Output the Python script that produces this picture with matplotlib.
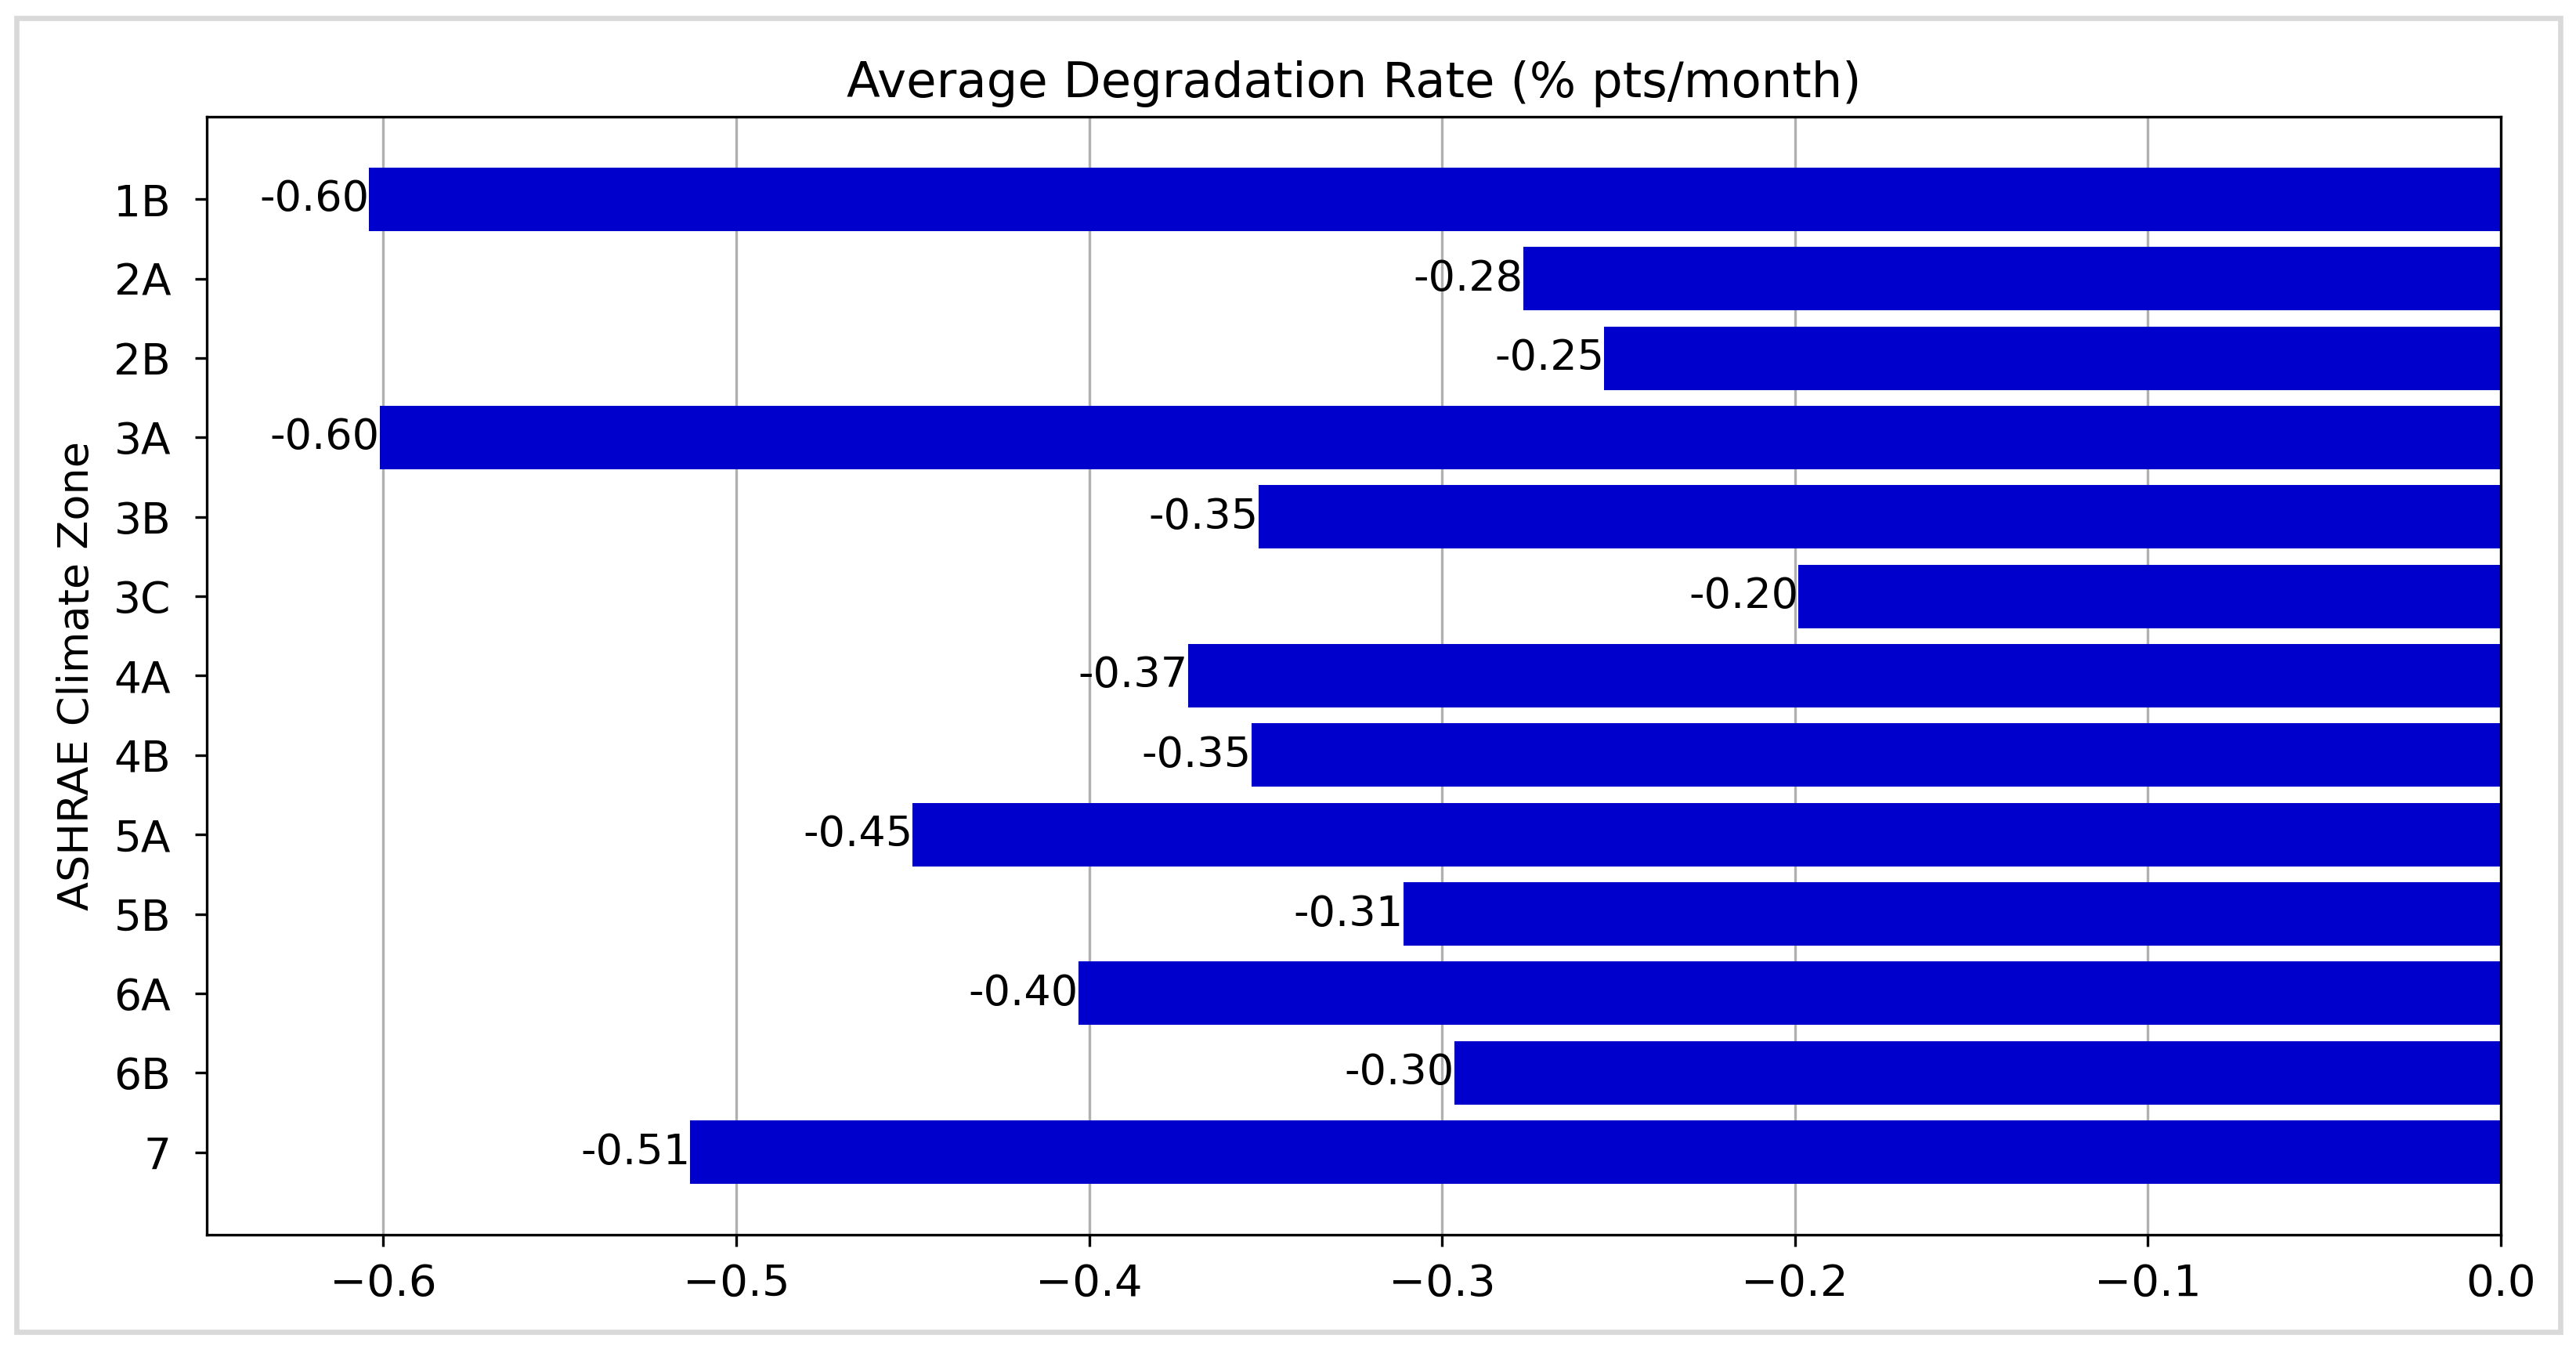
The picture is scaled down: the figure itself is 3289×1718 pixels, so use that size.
import matplotlib
matplotlib.use("Agg")
import matplotlib.pyplot as plt
from matplotlib.patches import Rectangle

# ASHRAE climate zones and average degradation rate (% pts/month)
zones = ["1B", "2A", "2B", "3A", "3B", "3C", "4A", "4B", "5A", "5B", "6A", "6B", "7"]
rates = [-0.604, -0.277, -0.254, -0.601, -0.352, -0.199, -0.372,
         -0.354, -0.450, -0.311, -0.403, -0.2965, -0.513]

W, H, DPI = 3289, 1718, 300

fig = plt.figure(figsize=(W / DPI, H / DPI), dpi=DPI)
fig.patch.set_facecolor("white")

# light grey frame around the picture
fig.patches.append(Rectangle((21 / W, 1 - 1700 / H), (3269 - 21) / W, (1700 - 23) / H,
                             transform=fig.transFigure, fill=False,
                             edgecolor="#d9d9d9", linewidth=1.6, zorder=0))

ax = fig.add_axes([264 / W, 1 - 1576 / H, (3193 - 264) / W, (1576 - 149) / H])

bars = ax.barh(zones, rates, height=0.8, color="#0000cc", zorder=2)
ax.bar_label(bars, fmt="%.2f", fontsize=13, padding=0)

ax.invert_yaxis()
ax.set_xlim(-0.65, 0.0)
ax.set_xticks([-0.6, -0.5, -0.4, -0.3, -0.2, -0.1, 0.0])
ax.grid(True, axis="x", color="#b0b0b0", linewidth=0.8, zorder=0)
ax.set_axisbelow(True)
ax.tick_params(axis="x", labelsize=13.5, pad=5)
ax.tick_params(axis="y", labelsize=13.2, pad=7.5)

ax.set_title("Average Degradation Rate (% pts/month)", fontsize=15)
ax.set_ylabel("ASHRAE Climate Zone", fontsize=13, labelpad=5)

fig.savefig("out.png", dpi=DPI)
